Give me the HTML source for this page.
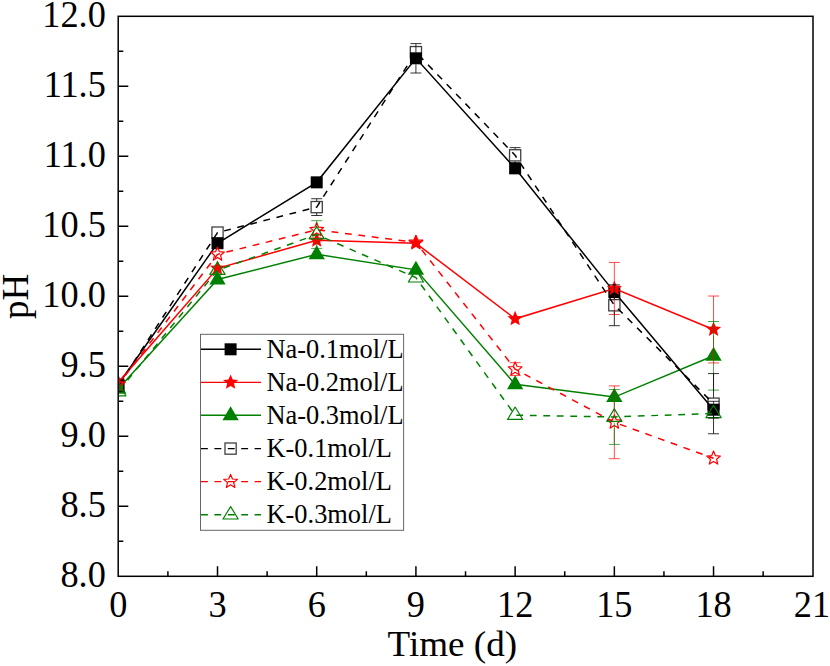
<!DOCTYPE html>
<html><head><meta charset="utf-8"><style>
html,body{margin:0;padding:0;background:#fff;}
svg{display:block;}
text{font-family:"Liberation Serif",serif;fill:#000;}
</style></head><body>
<svg width="830" height="666" viewBox="0 0 830 666">
<rect width="830" height="666" fill="#fff"/>
<defs><clipPath id="pc"><rect x="118.2" y="16.3" width="694.8" height="560"/></clipPath></defs>

<path d="M118.30 541.30H123.30 M118.30 506.30H128.30 M118.30 471.30H123.30 M118.30 436.30H128.30 M118.30 401.30H123.30 M118.30 366.30H128.30 M118.30 331.30H123.30 M118.30 296.30H128.30 M118.30 261.30H123.30 M118.30 226.30H128.30 M118.30 191.30H123.30 M118.30 156.30H128.30 M118.30 121.30H123.30 M118.30 86.30H128.30 M118.30 51.30H123.30 M167.90 576.30V571.30 M217.51 576.30V566.30 M267.11 576.30V571.30 M316.71 576.30V566.30 M366.32 576.30V571.30 M415.92 576.30V566.30 M465.53 576.30V571.30 M515.13 576.30V566.30 M564.73 576.30V571.30 M614.34 576.30V566.30 M663.94 576.30V571.30 M713.54 576.30V566.30 M763.15 576.30V571.30" stroke="#000" stroke-width="1.5" fill="none"/>
<text transform="translate(105.8,586.90) scale(1,1.04)" font-size="36.3" text-anchor="end">8.0</text>
<text transform="translate(105.8,516.90) scale(1,1.04)" font-size="36.3" text-anchor="end">8.5</text>
<text transform="translate(105.8,446.90) scale(1,1.04)" font-size="36.3" text-anchor="end">9.0</text>
<text transform="translate(105.8,376.90) scale(1,1.04)" font-size="36.3" text-anchor="end">9.5</text>
<text transform="translate(105.8,306.90) scale(1,1.04)" font-size="36.3" text-anchor="end">10.0</text>
<text transform="translate(105.8,236.90) scale(1,1.04)" font-size="36.3" text-anchor="end">10.5</text>
<text transform="translate(105.8,166.90) scale(1,1.04)" font-size="36.3" text-anchor="end">11.0</text>
<text transform="translate(105.8,96.90) scale(1,1.04)" font-size="36.3" text-anchor="end">11.5</text>
<text transform="translate(105.8,26.90) scale(1,1.04)" font-size="36.3" text-anchor="end">12.0</text>
<text transform="translate(118.30,616.7) scale(1,1.04)" font-size="36.3" text-anchor="middle">0</text>
<text transform="translate(217.51,616.7) scale(1,1.04)" font-size="36.3" text-anchor="middle">3</text>
<text transform="translate(316.71,616.7) scale(1,1.04)" font-size="36.3" text-anchor="middle">6</text>
<text transform="translate(415.92,616.7) scale(1,1.04)" font-size="36.3" text-anchor="middle">9</text>
<text transform="translate(515.13,616.7) scale(1,1.04)" font-size="36.3" text-anchor="middle">12</text>
<text transform="translate(614.34,616.7) scale(1,1.04)" font-size="36.3" text-anchor="middle">15</text>
<text transform="translate(713.54,616.7) scale(1,1.04)" font-size="36.3" text-anchor="middle">18</text>
<text transform="translate(811.95,616.7) scale(1,1.04)" font-size="36.3" text-anchor="middle">21</text>
<text x="452.3" y="655.8" font-size="36.5" text-anchor="middle" textLength="129.5" lengthAdjust="spacingAndGlyphs">Time (d)</text>
<text transform="translate(27.8,296.5) rotate(-90)" font-size="37" text-anchor="middle">pH</text>
<g clip-path="url(#pc)">
<polyline points="118.30,384.50 217.51,243.24 316.71,182.34 415.92,58.30 515.13,168.34 614.34,292.10 713.54,409.70" fill="none" stroke="#000000" stroke-width="1.5"/>
<rect x="112.30" y="378.50" width="12" height="12" fill="#000000"/>
<rect x="211.51" y="237.24" width="12" height="12" fill="#000000"/>
<rect x="310.71" y="176.34" width="12" height="12" fill="#000000"/>
<rect x="409.92" y="52.30" width="12" height="12" fill="#000000"/>
<rect x="509.13" y="162.34" width="12" height="12" fill="#000000"/>
<rect x="608.34" y="286.10" width="12" height="12" fill="#000000"/>
<rect x="707.54" y="403.70" width="12" height="12" fill="#000000"/>
<polyline points="118.30,382.40 217.51,268.30 316.71,240.30 415.92,243.24 515.13,318.84 614.34,288.46 713.54,329.48" fill="none" stroke="#ff0000" stroke-width="1.5"/>
<polygon points="118.30,374.40 120.42,379.49 125.91,379.93 121.72,383.51 123.00,388.87 118.30,386.00 113.60,388.87 114.88,383.51 110.69,379.93 116.18,379.49" fill="#ff0000"/>
<polygon points="217.51,260.30 219.62,265.39 225.12,265.83 220.93,269.41 222.21,274.77 217.51,271.90 212.80,274.77 214.08,269.41 209.90,265.83 215.39,265.39" fill="#ff0000"/>
<polygon points="316.71,232.30 318.83,237.39 324.32,237.83 320.14,241.41 321.42,246.77 316.71,243.90 312.01,246.77 313.29,241.41 309.11,237.83 314.60,237.39" fill="#ff0000"/>
<polygon points="415.92,235.24 418.04,240.33 423.53,240.77 419.35,244.35 420.62,249.71 415.92,246.84 411.22,249.71 412.50,244.35 408.31,240.77 413.81,240.33" fill="#ff0000"/>
<polygon points="515.13,310.84 517.24,315.93 522.74,316.37 518.55,319.95 519.83,325.31 515.13,322.44 510.43,325.31 511.70,319.95 507.52,316.37 513.01,315.93" fill="#ff0000"/>
<polygon points="614.34,280.46 616.45,285.55 621.94,285.99 617.76,289.57 619.04,294.93 614.34,292.06 609.63,294.93 610.91,289.57 606.73,285.99 612.22,285.55" fill="#ff0000"/>
<polygon points="713.54,321.48 715.66,326.57 721.15,327.01 716.97,330.59 718.25,335.95 713.54,333.08 708.84,335.95 710.12,330.59 705.93,327.01 711.43,326.57" fill="#ff0000"/>
<polyline points="118.30,388.70 217.51,279.50 316.71,254.30 415.92,269.84 515.13,384.36 614.34,397.10 713.54,355.80" fill="none" stroke="#008000" stroke-width="1.5"/>
<polygon points="118.30,379.70 110.15,393.70 126.45,393.70" fill="#008000"/>
<polygon points="217.51,270.50 209.36,284.50 225.66,284.50" fill="#008000"/>
<polygon points="316.71,245.30 308.56,259.30 324.86,259.30" fill="#008000"/>
<polygon points="415.92,260.84 407.77,274.84 424.07,274.84" fill="#008000"/>
<polygon points="515.13,375.36 506.98,389.36 523.28,389.36" fill="#008000"/>
<polygon points="614.34,388.10 606.19,402.10 622.49,402.10" fill="#008000"/>
<polygon points="713.54,346.80 705.39,360.80 721.69,360.80" fill="#008000"/>
<polyline points="118.30,385.90 217.51,232.60 316.71,207.12 415.92,52.14 515.13,155.32 614.34,305.26 713.54,403.68" fill="none" stroke="#000000" stroke-width="1.5" stroke-dasharray="6.8,6.700" stroke-dashoffset="13.022"/>
<rect x="112.70" y="380.30" width="11.2" height="11.2" fill="none" stroke="#000" stroke-opacity="0.75" stroke-width="1.3"/>
<rect x="211.91" y="227.00" width="11.2" height="11.2" fill="none" stroke="#000" stroke-opacity="0.75" stroke-width="1.3"/>
<rect x="311.11" y="201.52" width="11.2" height="11.2" fill="none" stroke="#000" stroke-opacity="0.75" stroke-width="1.3"/>
<rect x="410.32" y="46.54" width="11.2" height="11.2" fill="none" stroke="#000" stroke-opacity="0.75" stroke-width="1.3"/>
<rect x="509.53" y="149.72" width="11.2" height="11.2" fill="none" stroke="#000" stroke-opacity="0.75" stroke-width="1.3"/>
<rect x="608.74" y="299.66" width="11.2" height="11.2" fill="none" stroke="#000" stroke-opacity="0.75" stroke-width="1.3"/>
<rect x="707.94" y="398.08" width="11.2" height="11.2" fill="none" stroke="#000" stroke-opacity="0.75" stroke-width="1.3"/>
<polyline points="118.30,384.50 217.51,254.30 316.71,229.80 415.92,242.40 515.13,369.10 614.34,422.30 713.54,458.28" fill="none" stroke="#ff0000" stroke-width="1.5" stroke-dasharray="6.8,6.700" stroke-dashoffset="2.641"/>
<polygon points="118.30,377.30 120.20,381.88 125.15,382.28 121.38,385.50 122.53,390.32 118.30,387.74 114.07,390.32 115.22,385.50 111.45,382.28 116.40,381.88" fill="none" stroke="#ff0000" stroke-width="1.2" stroke-linejoin="round"/>
<polygon points="217.51,247.10 219.41,251.68 224.35,252.08 220.59,255.30 221.74,260.12 217.51,257.54 213.28,260.12 214.43,255.30 210.66,252.08 215.60,251.68" fill="none" stroke="#ff0000" stroke-width="1.2" stroke-linejoin="round"/>
<polygon points="316.71,222.60 318.62,227.18 323.56,227.58 319.80,230.80 320.95,235.62 316.71,233.04 312.48,235.62 313.63,230.80 309.87,227.58 314.81,227.18" fill="none" stroke="#ff0000" stroke-width="1.2" stroke-linejoin="round"/>
<polygon points="415.92,235.20 417.83,239.78 422.77,240.18 419.00,243.40 420.15,248.22 415.92,245.64 411.69,248.22 412.84,243.40 409.07,240.18 414.02,239.78" fill="none" stroke="#ff0000" stroke-width="1.2" stroke-linejoin="round"/>
<polygon points="515.13,361.90 517.03,366.48 521.98,366.88 518.21,370.10 519.36,374.92 515.13,372.34 510.90,374.92 512.05,370.10 508.28,366.88 513.22,366.48" fill="none" stroke="#ff0000" stroke-width="1.2" stroke-linejoin="round"/>
<polygon points="614.34,415.10 616.24,419.68 621.18,420.08 617.42,423.30 618.57,428.12 614.34,425.54 610.10,428.12 611.25,423.30 607.49,420.08 612.43,419.68" fill="none" stroke="#ff0000" stroke-width="1.2" stroke-linejoin="round"/>
<polygon points="713.54,451.08 715.45,455.66 720.39,456.06 716.62,459.28 717.77,464.10 713.54,461.52 709.31,464.10 710.46,459.28 706.70,456.06 711.64,455.66" fill="none" stroke="#ff0000" stroke-width="1.2" stroke-linejoin="round"/>
<polyline points="118.30,391.50 217.51,270.12 316.71,234.56 415.92,277.68 515.13,415.16 614.34,416.98 713.54,413.34" fill="none" stroke="#008000" stroke-width="1.5" stroke-dasharray="6.8,6.700" stroke-dashoffset="12.450"/>
<polygon points="118.30,383.40 110.70,395.80 125.90,395.80" fill="none" stroke="#008000" stroke-width="1.2" stroke-linejoin="round"/>
<polygon points="217.51,262.02 209.91,274.42 225.11,274.42" fill="none" stroke="#008000" stroke-width="1.2" stroke-linejoin="round"/>
<polygon points="316.71,226.46 309.11,238.86 324.31,238.86" fill="none" stroke="#008000" stroke-width="1.2" stroke-linejoin="round"/>
<polygon points="415.92,269.58 408.32,281.98 423.52,281.98" fill="none" stroke="#008000" stroke-width="1.2" stroke-linejoin="round"/>
<polygon points="515.13,407.06 507.53,419.46 522.73,419.46" fill="none" stroke="#008000" stroke-width="1.2" stroke-linejoin="round"/>
<polygon points="614.34,408.88 606.74,421.28 621.94,421.28" fill="none" stroke="#008000" stroke-width="1.2" stroke-linejoin="round"/>
<polygon points="713.54,405.24 705.94,417.64 721.14,417.64" fill="none" stroke="#008000" stroke-width="1.2" stroke-linejoin="round"/>
<path d="M415.92 43.60V52.30M415.92 64.30V73.00M410.42 43.60H421.42M410.42 73.00H421.42" stroke="#000000" stroke-width="1" stroke-opacity="0.8" fill="none"/>
<path d="M713.54 401.30V403.70M713.54 415.70V418.10M708.04 401.30H719.04M708.04 418.10H719.04" stroke="#000000" stroke-width="1" stroke-opacity="0.8" fill="none"/>
<path d="M614.34 262.42V282.46M614.34 294.46V314.50M608.84 262.42H619.84M608.84 314.50H619.84" stroke="#ff0000" stroke-width="1" stroke-opacity="0.7" fill="none"/>
<path d="M713.54 296.02V323.48M713.54 335.48V362.94M708.04 296.02H719.04M708.04 362.94H719.04" stroke="#ff0000" stroke-width="1" stroke-opacity="0.7" fill="none"/>
<path d="M713.54 321.50V349.80M713.54 361.80V390.10M708.04 321.50H719.04M708.04 390.10H719.04" stroke="#008000" stroke-width="1" stroke-opacity="0.7" fill="none"/>
<path d="M316.71 198.72V201.12M316.71 213.12V215.52M311.21 198.72H322.21M311.21 215.52H322.21" stroke="#000000" stroke-width="1" stroke-opacity="0.8" fill="none"/>
<path d="M515.13 147.62V149.32M515.13 161.32V163.02M509.63 147.62H520.63M509.63 163.02H520.63" stroke="#000000" stroke-width="1" stroke-opacity="0.8" fill="none"/>
<path d="M614.34 284.82V299.26M614.34 311.26V325.70M608.84 284.82H619.84M608.84 325.70H619.84" stroke="#000000" stroke-width="1" stroke-opacity="0.8" fill="none"/>
<path d="M713.54 373.58V397.68M713.54 409.68V433.78M708.04 373.58H719.04M708.04 433.78H719.04" stroke="#000000" stroke-width="1" stroke-opacity="0.8" fill="none"/>
<path d="M515.13 362.66V363.10M515.13 375.10V375.54M509.63 362.66H520.63M509.63 375.54H520.63" stroke="#ff0000" stroke-width="1" stroke-opacity="0.7" fill="none"/>
<path d="M614.34 385.90V416.30M614.34 428.30V458.70M608.84 385.90H619.84M608.84 458.70H619.84" stroke="#ff0000" stroke-width="1" stroke-opacity="0.7" fill="none"/>
<path d="M316.71 220.70V228.56M316.71 240.56V248.42M311.21 220.70H322.21M311.21 248.42H322.21" stroke="#008000" stroke-width="1" stroke-opacity="0.7" fill="none"/>
<path d="M614.34 389.54V410.98M614.34 422.98V444.42M608.84 389.54H619.84M608.84 444.42H619.84" stroke="#008000" stroke-width="1" stroke-opacity="0.7" fill="none"/>
</g>
<rect x="118.2" y="16.30" width="694.80" height="560.00" fill="none" stroke="#000" stroke-width="1.5"/>
<rect x="200.5" y="334.3" width="203.10" height="196.00" fill="#fff" stroke="#666" stroke-width="1"/>
<path d="M201.00 349.30H261" stroke="#000000" stroke-width="1.4" fill="none"/>
<rect x="224.60" y="343.30" width="12" height="12" fill="#000000"/>
<text x="266.5" y="357.80" font-size="26.4">Na-0.1mol/L</text>
<path d="M201.00 382.40H261" stroke="#ff0000" stroke-width="1.4" fill="none"/>
<polygon points="230.60,374.40 232.72,379.49 238.21,379.93 234.02,383.51 235.30,388.87 230.60,386.00 225.90,388.87 227.18,383.51 222.99,379.93 228.48,379.49" fill="#ff0000"/>
<text x="266.5" y="390.90" font-size="26.4">Na-0.2mol/L</text>
<path d="M201.00 415.30H261" stroke="#008000" stroke-width="1.4" fill="none"/>
<polygon points="230.60,406.30 222.45,420.30 238.75,420.30" fill="#008000"/>
<text x="266.5" y="423.80" font-size="26.4">Na-0.3mol/L</text>
<path d="M201.00 448.60H261" stroke="#000000" stroke-width="1.4" fill="none" stroke-dasharray="6.9,6.5"/>
<rect x="225.00" y="443.00" width="11.2" height="11.2" fill="none" stroke="#000" stroke-opacity="0.75" stroke-width="1.3"/>
<text x="266.5" y="457.10" font-size="26.4">K-0.1mol/L</text>
<path d="M201.00 481.60H261" stroke="#ff0000" stroke-width="1.4" fill="none" stroke-dasharray="6.9,6.5"/>
<polygon points="230.60,474.40 232.50,478.98 237.45,479.38 233.68,482.60 234.83,487.42 230.60,484.84 226.37,487.42 227.52,482.60 223.75,479.38 228.70,478.98" fill="none" stroke="#ff0000" stroke-width="1.2" stroke-linejoin="round"/>
<text x="266.5" y="490.10" font-size="26.4">K-0.2mol/L</text>
<path d="M201.00 514.70H261" stroke="#008000" stroke-width="1.4" fill="none" stroke-dasharray="6.9,6.5"/>
<polygon points="230.60,506.60 223.00,519.00 238.20,519.00" fill="none" stroke="#008000" stroke-width="1.2" stroke-linejoin="round"/>
<text x="266.5" y="523.20" font-size="26.4">K-0.3mol/L</text>
</svg></body></html>
